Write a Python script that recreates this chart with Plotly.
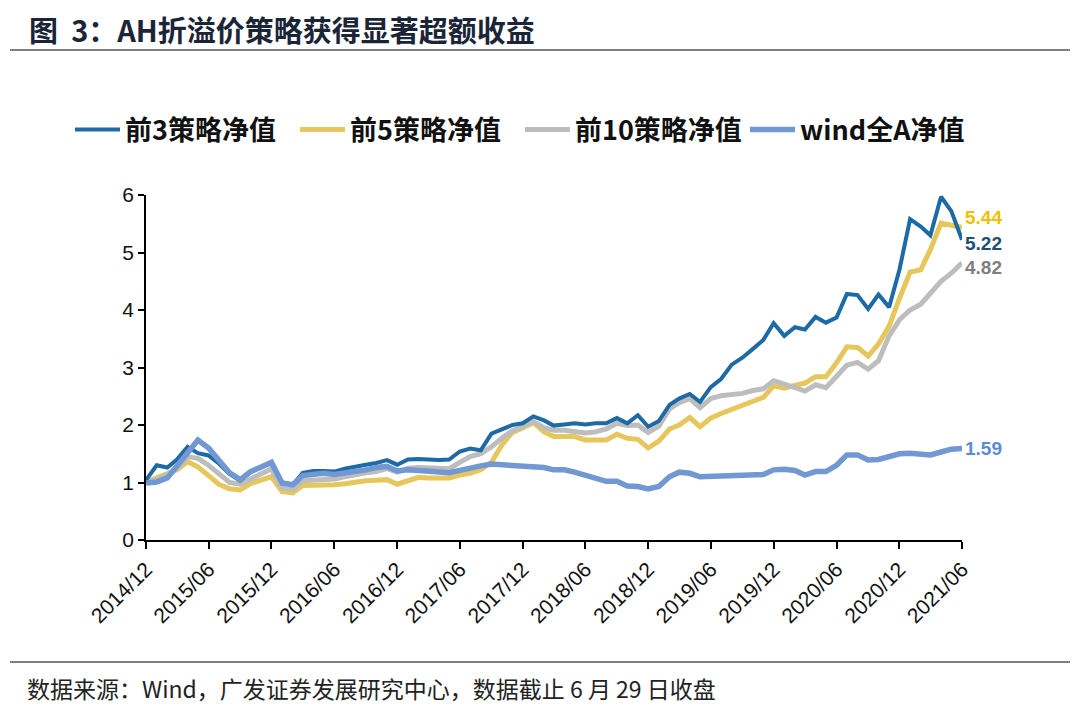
import plotly.graph_objects as go
import pandas as pd

# ---- data (monthly) ----
dates = pd.date_range("2014-12-01", "2021-06-01", freq="MS").strftime("%Y-%m-%d").tolist()

top3 = [1.04, 1.30, 1.26, 1.40, 1.62, 1.51, 1.47, 1.33, 1.15, 1.03,
        1.18, 1.27, 1.35, 0.99, 0.96, 1.17, 1.20, 1.20, 1.19, 1.24,
        1.28, 1.31, 1.34, 1.39, 1.31, 1.40, 1.41, 1.40, 1.39, 1.40,
        1.54, 1.59, 1.56, 1.85, 1.92, 2.00, 2.03, 2.15, 2.08, 1.99,
        2.01, 2.03, 2.01, 2.03, 2.03, 2.12, 2.03, 2.17, 1.97, 2.07,
        2.35, 2.46, 2.54, 2.40, 2.66, 2.80, 3.05, 3.17, 3.32, 3.48,
        3.77, 3.55, 3.70, 3.66, 3.88, 3.78, 3.87, 4.28, 4.26, 4.02,
        4.27, 4.05, 4.70, 5.58, 5.45, 5.30, 5.97, 5.72, 5.22]

top5 = [1.01, 1.08, 1.14, 1.22, 1.36, 1.27, 1.12, 0.97, 0.89, 0.87,
        0.98, 1.05, 1.10, 0.84, 0.82, 0.95, 0.95, 0.94, 0.96, 0.98,
        1.01, 1.03, 1.04, 1.05, 0.97, 1.04, 1.09, 1.08, 1.08, 1.08,
        1.13, 1.16, 1.22, 1.35, 1.65, 1.87, 1.95, 2.04, 1.88, 1.80,
        1.80, 1.80, 1.74, 1.74, 1.74, 1.84, 1.77, 1.75, 1.60, 1.72,
        1.93, 2.00, 2.13, 1.97, 2.12, 2.20, 2.27, 2.34, 2.40, 2.48,
        2.68, 2.64, 2.69, 2.73, 2.84, 2.84, 3.08, 3.36, 3.35, 3.20,
        3.41, 3.72, 4.20, 4.66, 4.70, 5.05, 5.51, 5.48, 5.44]

top10 = [1.02, 1.05, 1.14, 1.25, 1.45, 1.42, 1.30, 1.15, 1.00, 0.97,
         1.06, 1.13, 1.24, 0.90, 0.88, 1.03, 1.04, 1.05, 1.06, 1.10,
         1.14, 1.17, 1.19, 1.24, 1.18, 1.25, 1.26, 1.25, 1.23, 1.24,
         1.35, 1.45, 1.50, 1.62, 1.77, 1.90, 1.97, 2.06, 1.95, 1.91,
         1.91, 1.89, 1.86, 1.88, 1.93, 2.03, 1.99, 2.00, 1.87, 1.98,
         2.28, 2.39, 2.46, 2.30, 2.46, 2.51, 2.52, 2.55, 2.60, 2.63,
         2.77, 2.70, 2.65, 2.59, 2.70, 2.65, 2.85, 3.04, 3.09, 2.97,
         3.12, 3.55, 3.83, 4.00, 4.10, 4.28, 4.50, 4.64, 4.82]

windA = [0.99, 1.01, 1.08, 1.28, 1.50, 1.74, 1.60, 1.37, 1.17, 1.05,
         1.19, 1.27, 1.35, 0.99, 0.96, 1.12, 1.15, 1.16, 1.14, 1.16,
         1.19, 1.22, 1.26, 1.28, 1.20, 1.22, 1.21, 1.20, 1.19, 1.17,
         1.21, 1.26, 1.29, 1.32, 1.31, 1.28, 1.28, 1.27, 1.26, 1.22,
         1.22, 1.18, 1.12, 1.07, 1.02, 1.02, 0.94, 0.93, 0.89, 0.93,
         1.10, 1.18, 1.16, 1.10, 1.11, 1.12, 1.13, 1.14, 1.15, 1.14,
         1.22, 1.23, 1.21, 1.13, 1.19, 1.19, 1.30, 1.48, 1.48, 1.39,
         1.40, 1.45, 1.50, 1.51, 1.49, 1.48, 1.53, 1.58, 1.59]

names = ["前3策略净值", "前5策略净值", "前10策略净值", "wind全A净值"]
end_labels = ["5.22", "5.44", "4.82", "1.59"]
y_ticks = [0, 1, 2, 3, 4, 5, 6]

# ---- styles ----
c_top3, c_top5, c_top10, c_wind = "#1D6AA7", "#E6C75E", "#BDBDBD", "#7198D2"
lab_colors = ["#1F4E79", "#F2BF00", "#7F7F7F", "#5B8BD0"]

# page has an 8px body margin: figure sized to fit the 1080x709 window
OFF = 8
W, H = 1080 - OFF, 709 - OFF
# plot area in screen pixels: x 146..962, y 195..540
L = 146 - OFF
T = 195 - OFF
R = W - (962 - OFF)
B = H - (540 - OFF)
pw, ph = W - L - R, H - T - B


def px_x(sx):
    return (sx - OFF - L) / pw


def px_y(sy):
    return (H - B - (sy - OFF)) / ph


fig = go.Figure()
series = [
    (top5, names[1], c_top5, 5, 2),
    (top10, names[2], c_top10, 5, 3),
    (top3, names[0], c_top3, 4, 1),
    (windA, names[3], c_wind, 5.5, 4),
]
for vals, nm, col, w, rank in series:
    fig.add_trace(go.Scatter(
        x=dates, y=vals, name=nm, mode="lines",
        line=dict(color=col, width=w), legendrank=rank,
        hoverinfo="skip",
    ))

# end value labels
label_series = [top3, top5, top10, windA]
shifts = [-4, 10, -5, 0]
for vals, txt, col, ys in zip(label_series, end_labels, lab_colors, shifts):
    fig.add_annotation(
        x=dates[-1], y=vals[-1], text=f"<b>{txt}</b>", showarrow=False,
        xanchor="left", yanchor="middle", xshift=1, yshift=ys,
        font=dict(family="Liberation Sans, Arial", size=19, color=col),
    )

# title
fig.add_annotation(
    xref="paper", yref="paper", x=px_x(27), y=px_y(29),
    text="<b>图&nbsp;&nbsp;3：AH折溢价策略获得显著超额收益</b>", showarrow=False,
    xanchor="left", yanchor="middle",
    font=dict(family="Noto Sans CJK SC", size=29, color="#1B2538"),
)
# footer
fig.add_annotation(
    xref="paper", yref="paper", x=px_x(25), y=px_y(688),
    text="数据来源：Wind，广发证券发展研究中心，数据截止 6 月 29 日收盘",
    showarrow=False, xanchor="left", yanchor="middle",
    font=dict(family="Noto Sans CJK SC", size=23, color="#222222"),
)

fig.add_shape(type="line", xref="paper", yref="paper",
              x0=px_x(10), x1=px_x(1070), y0=px_y(50), y1=px_y(50),
              line=dict(color="#808080", width=2))
fig.add_shape(type="line", xref="paper", yref="paper",
              x0=px_x(10), x1=px_x(1070), y0=px_y(662), y1=px_y(662),
              line=dict(color="#555555", width=1.5))

fig.update_layout(
    width=W, height=H,
    margin=dict(l=L, r=R, t=T, b=B, autoexpand=False),
    paper_bgcolor="white", plot_bgcolor="white",
    showlegend=True,
    legend=dict(
        orientation="h", x=px_x(70), y=px_y(130), xanchor="left", yanchor="middle",
        font=dict(family="Noto Sans CJK SC", size=27, color="#111111", weight="bold"),
        entrywidth=165, entrywidthmode="pixels", itemwidth=45,
        bgcolor="rgba(0,0,0,0)",
    ),
    xaxis=dict(
        type="date", range=[dates[0], dates[-1]],
        tick0=dates[0], dtick="M6", tickformat="%Y/%m",
        tickangle=-45, ticks="outside", ticklen=7, tickwidth=1.5, tickcolor="#000",
        showline=True, linecolor="#000", linewidth=1.5,
        showgrid=False, zeroline=False,
        tickfont=dict(family="Liberation Sans, Arial", size=21, color="#111"),
    ),
    yaxis=dict(
        range=[0, 6], tickvals=y_ticks,
        ticks="outside", ticklen=6, tickwidth=1.5, tickcolor="#000",
        showline=True, linecolor="#000", linewidth=1.5,
        showgrid=False, zeroline=False,
        tickfont=dict(family="Liberation Sans, Arial", size=21, color="#111"),
    ),
)

fig.write_html("out.html")
